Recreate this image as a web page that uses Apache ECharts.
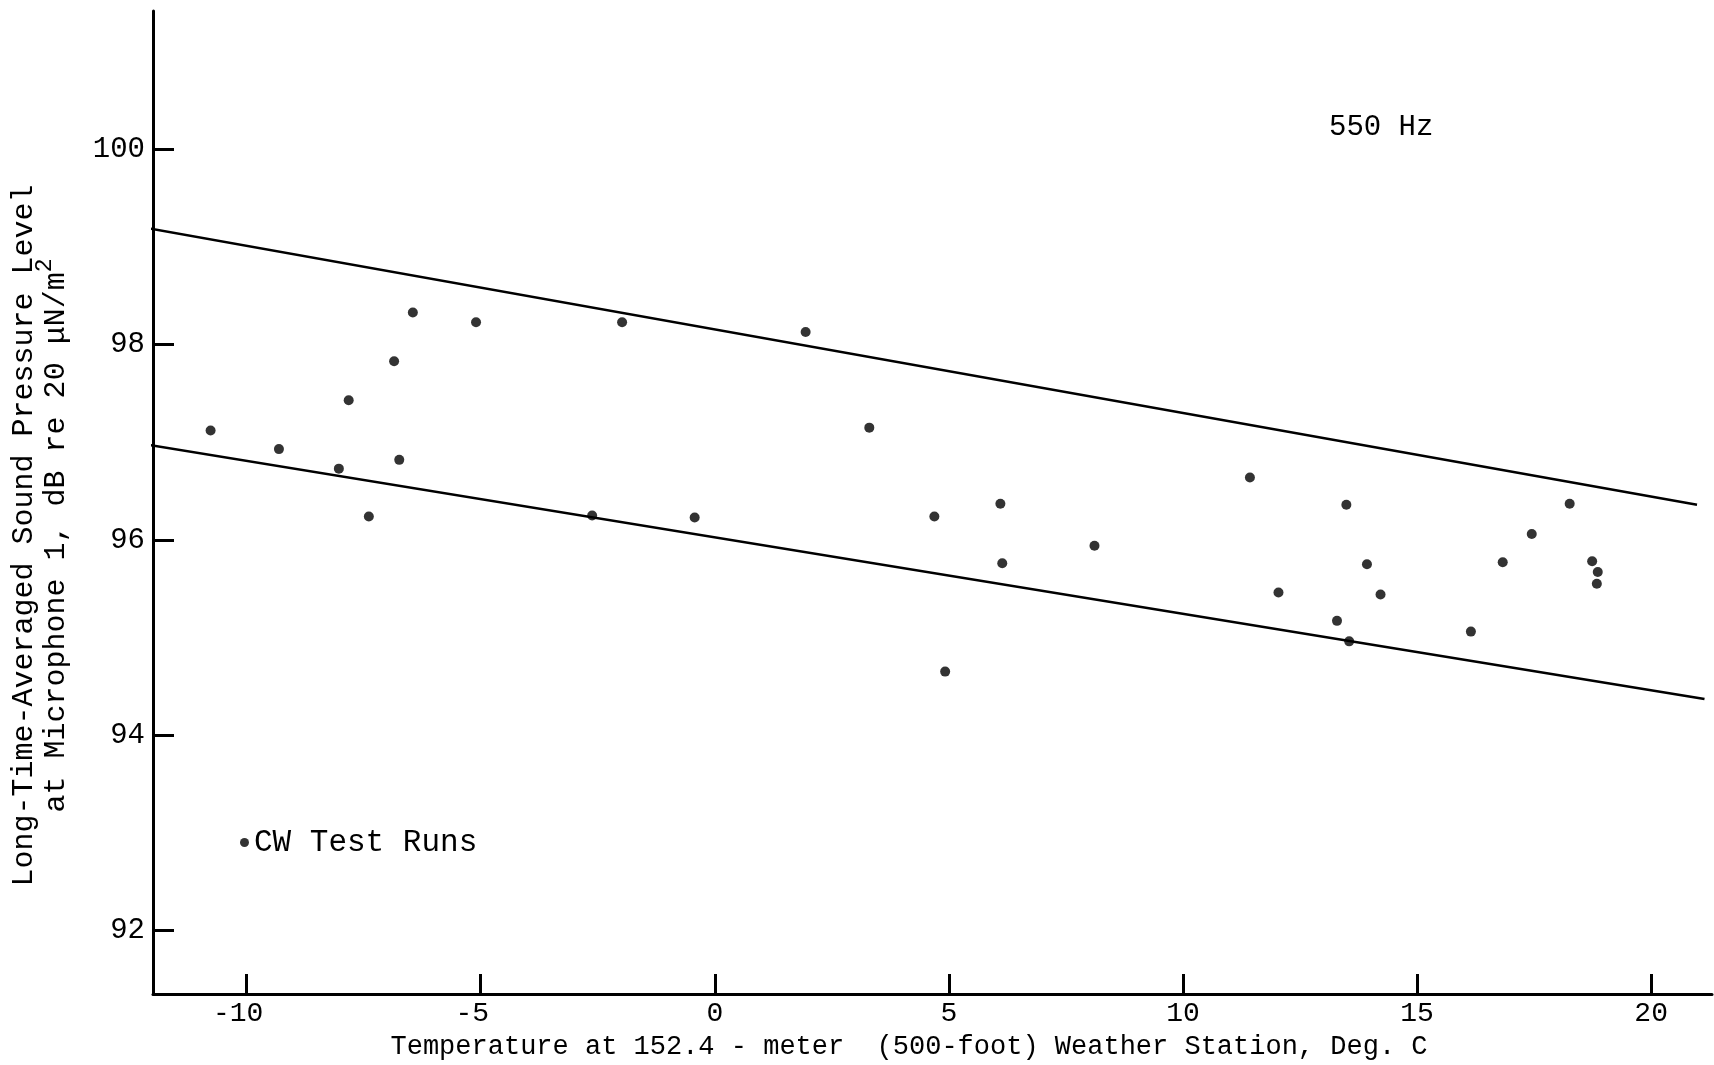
<!DOCTYPE html>
<html>
<head>
<meta charset="utf-8">
<script src="https://cdn.jsdelivr.net/npm/echarts@6.0.0/dist/echarts.min.js"></script>
<style>
html,body{margin:0;padding:0;background:#fff;}
#chart{width:1714px;height:1065px;}
</style>
</head>
<body>
<div id="chart"></div>
<script>
// ---- Data ----
const temperatures = [-10.77, -9.31, -8.03, -7.82, -7.39, -6.85, -6.74, -6.45, -5.10, -2.62, -1.98,
  -0.43, 1.94, 3.30, 4.69, 4.92, 6.10, 6.14, 8.11, 11.43, 12.04, 13.29, 13.49, 13.55, 13.93, 14.22,
  16.15, 16.83, 17.45, 18.26, 18.74, 18.86, 18.84];
const soundLevels = [97.12, 96.93, 96.73, 97.43, 96.24, 97.83, 96.82, 98.33, 98.23, 96.25, 98.23,
  96.23, 98.13, 97.15, 96.24, 94.65, 96.37, 95.76, 95.94, 96.64, 95.46, 95.17, 96.36, 94.96, 95.75, 95.44,
  95.06, 95.77, 96.06, 96.37, 95.78, 95.67, 95.55];
const upperBoundX = [-12.3, 20.98];
const upperBoundY = [99.21, 96.36];
const lowerBoundX = [-12.3, 21.14];
const lowerBoundY = [96.99, 94.37];
const xTickValues = [-10, -5, 0, 5, 10, 15, 20];
const yTickValues = [92, 94, 96, 98, 100];
const seriesName = 'CW Test Runs';
const frequencyLabel = '550 Hz';
const xAxisTitle = 'Temperature at 152.4 - meter  (500-foot) Weather Station, Deg. C';
const yAxisTitleLine1 = 'Long-Time-Averaged Sound Pressure Level';
const yAxisTitleLine2 = 'at Microphone 1, dB re 20 \u03bcN/m';
const yAxisTitleSup = '2';

// ---- Build ----
const FONT = '"Liberation Mono", "DejaVu Sans Mono", monospace';
const scatterData = temperatures.map((t, i) => [t, soundLevels[i]]);
const upperData = upperBoundX.map((x, i) => [x, upperBoundY[i]]);
const lowerData = lowerBoundX.map((x, i) => [x, lowerBoundY[i]]);

const chart = echarts.init(document.getElementById('chart'), null, {renderer: 'canvas'});
chart.setOption({
  backgroundColor: '#ffffff',
  animation: false,
  textStyle: {fontFamily: FONT, color: '#000'},
  title: {
    text: frequencyLabel,
    left: 1324,
    top: 108,
    textStyle: {fontFamily: FONT, fontSize: 29, fontWeight: 'normal', color: '#000'}
  },
  legend: {
    data: [{name: seriesName, icon: 'circle'}],
    left: 235,
    top: 822,
    itemWidth: 9,
    itemHeight: 9,
    selectedMode: false,
    textStyle: {fontFamily: FONT, fontSize: 31, color: '#000'}
  },
  grid: {
    left: 153, top: 11, width: 1559, height: 983,
    containLabel: false,
    outerBoundsMode: 'none'
  },
  xAxis: {
    type: 'value',
    min: -12,
    max: 21.3,
    splitLine: {show: false},
    axisLine: {onZero: false, lineStyle: {color: '#000', width: 3}},
    axisTick: {show: true, inside: true, length: 20, customValues: xTickValues,
      lineStyle: {color: '#000', width: 3}},
    axisLabel: {
      customValues: xTickValues,
      margin: 6,
      fontFamily: FONT, fontSize: 28, color: '#000',
      formatter: v => v < 0 ? '{n|' + v + '}' : String(v),
      rich: {n: {fontFamily: FONT, fontSize: 28, color: '#000', padding: [0, 17, 0, 0]}}
    },
    name: xAxisTitle,
    nameLocation: 'middle',
    nameGap: 31,
    nameTextStyle: {fontFamily: FONT, fontSize: 27, color: '#000', padding: [0, 47, 0, 0]}
  },
  yAxis: {
    type: 'value',
    min: 91.346,
    max: 101.42,
    splitLine: {show: false},
    axisLine: {onZero: false, lineStyle: {color: '#000', width: 3}},
    axisTick: {show: true, inside: true, length: 21, customValues: yTickValues,
      lineStyle: {color: '#000', width: 3}},
    axisLabel: {customValues: yTickValues, margin: 8, fontFamily: FONT, fontSize: 29, color: '#000'},
    name: '{a|' + yAxisTitleLine1 + '}\n{b|' + yAxisTitleLine2 + '}{sup|' + yAxisTitleSup + '}',
    nameLocation: 'middle',
    nameRotate: 90,
    nameGap: 82,
    nameTextStyle: {
      fontFamily: FONT, fontSize: 30, color: '#000',
      padding: [0, 66, 0, 0],
      rich: {
        a: {fontFamily: FONT, fontSize: 30, color: '#000', lineHeight: 18},
        b: {fontFamily: FONT, fontSize: 30, color: '#000', lineHeight: 38, verticalAlign: 'bottom'},
        sup: {fontFamily: FONT, fontSize: 23, color: '#000', lineHeight: 20, verticalAlign: 'top'}
      }
    }
  },
  series: [
    {
      name: seriesName,
      type: 'scatter',
      data: scatterData,
      symbol: 'circle',
      symbolSize: 10,
      itemStyle: {color: '#000'},
      z: 3
    },
    {
      type: 'line',
      data: upperData,
      showSymbol: false,
      symbol: 'none',
      clip: false,
      lineStyle: {color: '#000', width: 2.5},
      z: 2
    },
    {
      type: 'line',
      data: lowerData,
      showSymbol: false,
      symbol: 'none',
      clip: false,
      lineStyle: {color: '#000', width: 2.5},
      z: 2
    }
  ]
});
</script>
</body>
</html>
